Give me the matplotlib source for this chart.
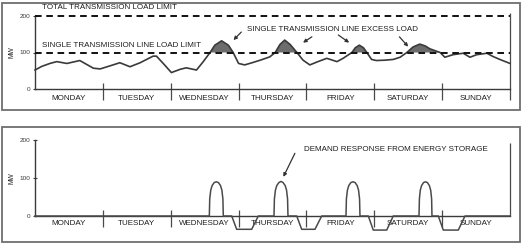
import matplotlib
matplotlib.use("Agg")
import matplotlib.pyplot as plt
from matplotlib.patches import Rectangle
import numpy as np

plt.rcParams['font.family'] = ['Liberation Sans', 'DejaVu Sans']

# ---------------- data ----------------
days = ["MONDAY", "TUESDAY", "WEDNESDAY", "THURSDAY", "FRIDAY", "SATURDAY", "SUNDAY"]
yticks = [0, 100, 200]
single_limit = 100
total_limit = 200

load_day = [0.00, 0.10, 0.22, 0.32, 0.47, 0.66, 0.86, 0.96, 1.15, 1.25, 1.40, 1.55,
            1.74, 1.79, 1.89, 2.01, 2.14, 2.23, 2.38, 2.48, 2.58, 2.65, 2.75, 2.85,
            2.92, 3.00, 3.09, 3.20, 3.32, 3.46, 3.54, 3.61, 3.68, 3.76, 3.86, 3.95,
            4.05, 4.17, 4.30, 4.45, 4.54, 4.67, 4.72, 4.78, 4.84, 4.89, 4.96, 5.03,
            5.16, 5.28, 5.38, 5.48, 5.57, 5.67, 5.75, 5.82, 5.97, 6.04, 6.16, 6.31,
            6.41, 6.51, 6.66, 6.75, 6.85, 7.00]
load_mw = [52, 62, 70, 75, 70, 78, 57, 55, 66, 72, 61, 72,
           90, 90, 70, 45, 54, 58, 52, 75, 100, 120, 132, 120,
           100, 70, 66, 72, 79, 88, 100, 122, 134, 122, 100, 79,
           66, 75, 84, 75, 84, 100, 113, 120, 113, 100, 81, 78,
           79, 81, 87, 100, 115, 123, 118, 110, 100, 87, 94, 98,
           87, 94, 98, 89, 81, 70]

storage_day = [0.000,
               2.569, 2.575, 2.590, 2.610, 2.641, 2.672, 2.703, 2.734, 2.754, 2.769, 2.775,
               2.899, 2.972, 3.193, 3.291,
               3.522, 3.528, 3.543, 3.563, 3.594, 3.625, 3.656, 3.687, 3.707, 3.722, 3.728,
               3.857, 3.930, 4.126, 4.225,
               4.583, 4.589, 4.604, 4.624, 4.655, 4.686, 4.717, 4.748, 4.768, 4.783, 4.789,
               4.912, 4.985, 5.183, 5.280,
               5.659, 5.665, 5.678, 5.697, 5.726, 5.754, 5.783, 5.812, 5.831, 5.845, 5.850,
               5.943, 6.017, 6.238, 6.337,
               7.000]
storage_mw = [0,
              0, 45, 68, 80, 88, 90, 88, 80, 68, 45, 0,
              0, -35, -35, 0,
              0, 45, 68, 80, 88, 91, 88, 80, 68, 45, 0,
              0, -35, -35, 0,
              0, 45, 68, 80, 88, 90, 88, 80, 68, 45, 0,
              0, -37, -37, 0,
              0, 45, 68, 80, 88, 90, 88, 80, 68, 45, 0,
              0, -37, -37, 0,
              0]

# ---------------- figure ----------------
W, H = 523, 246
fig = plt.figure(figsize=(W / 100, H / 100), dpi=100)
fig.patch.set_facecolor("white")

TXT = "#1e1e1e"
FRAME = "#6e6e6e"
FS = 5.8


def px_axes(x0, y0, x1, y1):
    return fig.add_axes([x0 / W, 1 - y1 / H, (x1 - x0) / W, (y1 - y0) / H])


def style_axes(ax, xlim, ylim, day_label_y, sep_top, sep_bottom, right_top, right_bottom):
    ax.set_xlim(*xlim)
    ax.set_ylim(*ylim)
    ax.patch.set_visible(False)
    for s in ["top", "right"]:
        ax.spines[s].set_visible(False)
    ax.spines["left"].set_position(("data", 0))
    ax.spines["left"].set_bounds(0, 200)
    ax.spines["bottom"].set_position(("data", 0))
    ax.spines["bottom"].set_bounds(0, 7)
    for s in ["left", "bottom"]:
        ax.spines[s].set_color("#3a3a3a")
        ax.spines[s].set_linewidth(1.0)
    ax.set_xticks([])
    ax.set_yticks(yticks)
    ax.set_yticklabels([str(t) for t in yticks], fontsize=4.6, color=TXT)
    ax.tick_params(axis="y", direction="inout", length=3, width=0.8, pad=1.5, colors="#3a3a3a")
    ax.add_patch(Rectangle((0, 0), 1, 1, transform=ax.transAxes, fill=False,
                           ec=FRAME, lw=1.3, clip_on=False))
    # day separators and labels
    ax.vlines(np.arange(1, 7), sep_bottom, sep_top, color="#4a4a4a", lw=0.9)
    ax.vlines([7], right_bottom, right_top, color="#4a4a4a", lw=0.9)
    for i, d in enumerate(days):
        ax.text(i + 0.5, day_label_y, d, ha="center", va="center", fontsize=FS, color=TXT)
    ax.text(-0.34, 100, "MW", rotation=90, ha="center", va="center", fontsize=4.8, color=TXT)


# px->data helpers for layout
x_lo = (2 - 35) / 67.86
x_hi = 7 + (520 - 510) / 67.86

# ---- top panel ----
ax1 = px_axes(2, 3, 520, 110)
ax1.set_zorder(2)
k1 = 0.365
style_axes(ax1, (x_lo, x_hi), (-(110 - 89) / k1, (89 - 3) / k1),
           day_label_y=-25, sep_top=17, sep_bottom=-30, right_top=208, right_bottom=-30)

ld = np.array(load_day)
lm = np.array(load_mw)
ax1.fill_between(ld, lm, single_limit, where=lm >= single_limit, interpolate=True,
                 color="#6c6c6c", lw=0, zorder=2)
ax1.plot(ld, lm, color="#3a3a3a", lw=1.2, solid_joinstyle="round", zorder=3)
ax1.hlines([single_limit, total_limit], 0, 7, colors="#111111", lw=1.4,
           linestyles=(0, (3.4, 2.4)), zorder=4)

ax1.text(0.10, 222, "TOTAL TRANSMISSION LOAD LIMIT", ha="left", va="center",
         fontsize=FS, color=TXT)
ax1.text(0.10, 119, "SINGLE TRANSMISSION LINE LOAD LIMIT", ha="left", va="center",
         fontsize=FS, color=TXT)
ax1.text(3.12, 162, "SINGLE TRANSMISSION LINE EXCESS LOAD", ha="left", va="center",
         fontsize=FS, color=TXT)

arrow_kw = dict(arrowstyle="-|>", color="#333333", lw=0.9, mutation_scale=5,
                shrinkA=0, shrinkB=0)
for tail, head in [((3.04, 156), (2.925, 134)),
                   ((4.08, 143), (3.95, 127)),
                   ((4.47, 148), (4.63, 127)),
                   ((5.37, 143), (5.50, 116))]:
    ax1.annotate("", xy=head, xytext=tail, arrowprops=arrow_kw)

# ---- bottom panel ----
ax2 = px_axes(2, 127, 520, 242)
k2 = 0.38
style_axes(ax2, (x_lo, x_hi), (-(242 - 216) / k2, (216 - 127) / k2),
           day_label_y=-21, sep_top=17, sep_bottom=-30, right_top=192, right_bottom=0)

ax2.plot(storage_day, storage_mw, color="#4a4a4a", lw=1.1, solid_joinstyle="round", zorder=3)
ax2.text(3.96, 174, "DEMAND RESPONSE FROM ENERGY STORAGE", ha="left", va="center",
         fontsize=FS, color=TXT)
ax2.annotate("", xy=(3.66, 103), xytext=(3.83, 165), arrowprops=arrow_kw)

fig.savefig("out.png", dpi=100, facecolor="white")
